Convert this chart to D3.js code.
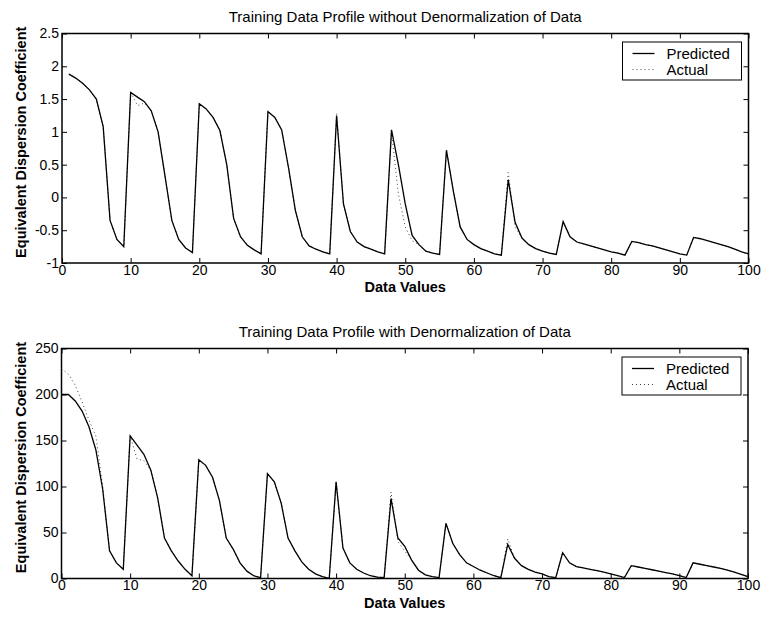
<!DOCTYPE html>
<html>
<head>
<meta charset="utf-8">
<script src="https://cdn.jsdelivr.net/npm/d3@7"></script>
<style>
body { margin: 0; background: #fff; }
svg text { font-family: "Liberation Sans", Arial, sans-serif; fill: #000; }
.axis text { font-size: 14px; }
.axis line { stroke: #000; stroke-width: 1; }
.axis path { display: none; }
.chart-title { font-size: 15px; }
.axis-label { font-size: 14.5px; font-weight: bold; }
.legend text { font-size: 15px; }
</style>
</head>
<body>
<div id="chart-area"></div>
<script>

// ---- data ----
var legendLabels = ["Predicted", "Actual"];
var xTicks = [0, 10, 20, 30, 40, 50, 60, 70, 80, 90, 100];
var yTicksTop = [-1, -0.5, 0, 0.5, 1, 1.5, 2, 2.5];
var yTicksBottom = [0, 50, 100, 150, 200, 250];

// top panel: x = 1..100
var topStart = 1;
var topPredicted = [
    1.88, 1.82, 1.74, 1.64, 1.50, 1.08, -0.35, -0.64, -0.75,
    1.60, 1.53, 1.46, 1.32, 1.00, 0.33, -0.35, -0.64, -0.77, -0.84,
    1.43, 1.35, 1.22, 1.02, 0.50, -0.32, -0.60, -0.73, -0.80, -0.86,
    1.31, 1.22, 1.03, 0.45, -0.20, -0.60, -0.74, -0.79, -0.83, -0.86,
    1.25, -0.10, -0.52, -0.68, -0.75, -0.79, -0.83, -0.86,
    1.03, 0.50, -0.10, -0.58, -0.72, -0.82, -0.85, -0.87,
    0.72, 0.10, -0.45, -0.64, -0.72, -0.78, -0.82, -0.86, -0.88,
    0.27, -0.38, -0.62, -0.72, -0.78, -0.82, -0.85, -0.87,
    -0.37, -0.60, -0.68, -0.71, -0.74, -0.77, -0.80, -0.83, -0.85, -0.88,
    -0.67, -0.69, -0.72, -0.74, -0.77, -0.80, -0.83, -0.86, -0.88,
    -0.61, -0.63, -0.66, -0.69, -0.72, -0.75, -0.79, -0.83, -0.86
];
var topActual = [
    1.88, 1.82, 1.74, 1.64, 1.50, 1.08, -0.35, -0.64, -0.75,
    1.60, 1.40, 1.44, 1.32, 1.00, 0.33, -0.35, -0.64, -0.77, -0.84,
    1.43, 1.35, 1.22, 1.02, 0.50, -0.32, -0.60, -0.73, -0.80, -0.86,
    1.31, 1.22, 1.03, 0.45, -0.20, -0.60, -0.74, -0.79, -0.83, -0.86,
    1.28, -0.10, -0.52, -0.68, -0.75, -0.79, -0.83, -0.86,
    1.00, 0.05, -0.45, -0.66, -0.72, -0.82, -0.85, -0.87,
    0.72, 0.10, -0.45, -0.64, -0.72, -0.78, -0.82, -0.86, -0.88,
    0.38, -0.45, -0.62, -0.72, -0.78, -0.82, -0.85, -0.87,
    -0.37, -0.60, -0.68, -0.71, -0.74, -0.77, -0.80, -0.83, -0.85, -0.88,
    -0.67, -0.69, -0.72, -0.74, -0.77, -0.80, -0.83, -0.86, -0.88,
    -0.61, -0.63, -0.66, -0.69, -0.72, -0.75, -0.79, -0.83, -0.86
];

// bottom panel: x = 0..100
var bottomStart = 0;
var bottomPredicted = [
    200, 200, 193, 182, 165, 140, 97, 30, 17, 10,
    155, 145, 135, 118, 88, 44, 30, 19, 10, 3,
    129, 123, 110, 85, 44, 32, 17, 8, 3, 1,
    114, 105, 82, 44, 30, 18, 10, 5, 2, 0,
    105, 33, 17, 10, 6, 3, 1.5, 1,
    87, 44, 35, 20, 9, 4, 2, 1,
    60, 38, 26, 17, 13, 9, 6, 3, 1,
    37, 22, 14, 10, 7, 5, 2, 1,
    28, 17, 13, 11.5, 10, 8.5, 7, 5, 3, 1,
    14, 12.5, 11, 9.5, 8, 6.5, 5, 3, 1,
    17, 15.5, 14, 12.5, 11, 9, 7, 4.5, 2
];
var bottomActual = [
    228, 222, 210, 192, 172, 155, 100, 30, 17, 10,
    155, 130, 128, 118, 88, 44, 30, 19, 10, 3,
    129, 123, 110, 85, 44, 32, 17, 8, 3, 1,
    114, 105, 82, 44, 30, 18, 10, 5, 2, 0,
    105, 33, 17, 10, 6, 3, 1.5, 1,
    94, 40, 30, 20, 9, 4, 2, 1,
    60, 38, 26, 17, 13, 9, 6, 3, 1,
    43, 22, 14, 10, 7, 5, 2, 1,
    28, 17, 13, 11.5, 10, 8.5, 7, 5, 3, 1,
    14, 12.5, 11, 9.5, 8, 6.5, 5, 3, 1,
    17, 15.5, 14, 12.5, 11, 9, 7, 4.5, 2
];


var svg = d3.select("#chart-area").append("svg")
    .attr("width", 762)
    .attr("height", 619);


/*
 * ProfileChart - one panel (axes box, two lines, legend)
 */
ProfileChart = function(_svg, _cfg){
    this.svg = _svg;
    this.cfg = _cfg;
    this.initVis();
}

ProfileChart.prototype.initVis = function(){
    var vis = this;
    var cfg = vis.cfg;

    vis.width = cfg.width;
    vis.height = cfg.height;

    vis.g = vis.svg.append("g")
        .attr("transform", "translate(" + cfg.left + "," + cfg.top + ")");

    // scales
    vis.x = d3.scaleLinear().domain([0, 100]).range([0, vis.width]);
    vis.y = d3.scaleLinear().domain(cfg.yDomain).range([vis.height, 0]);

    var fmt = function(d) { return String(d); };

    // MATLAB style: ticks point inward on all four sides
    vis.g.append("g")
        .attr("class", "axis")
        .attr("transform", "translate(0," + vis.height + ")")
        .call(d3.axisBottom(vis.x).tickValues(xTicks).tickFormat(fmt)
            .tickSizeInner(-5).tickSizeOuter(0).tickPadding(2));

    vis.g.append("g")
        .attr("class", "axis")
        .call(d3.axisTop(vis.x).tickValues(xTicks).tickFormat("")
            .tickSizeInner(-5).tickSizeOuter(0));

    vis.g.append("g")
        .attr("class", "axis")
        .call(d3.axisLeft(vis.y).tickValues(cfg.yTicks).tickFormat(fmt)
            .tickSizeInner(-5).tickSizeOuter(0).tickPadding(3));

    vis.g.append("g")
        .attr("class", "axis")
        .attr("transform", "translate(" + vis.width + ",0)")
        .call(d3.axisRight(vis.y).tickValues(cfg.yTicks).tickFormat("")
            .tickSizeInner(-5).tickSizeOuter(0));

    // box
    vis.g.append("rect")
        .attr("width", vis.width)
        .attr("height", vis.height)
        .attr("fill", "none")
        .attr("stroke", "#000")
        .attr("stroke-width", 1.5);

    // lines
    vis.line = d3.line()
        .x(function(d, i) { return vis.x(cfg.xStart + i); })
        .y(function(d) { return vis.y(d); });

    vis.g.append("path")
        .datum(cfg.actual)
        .attr("fill", "none")
        .attr("stroke", "#444")
        .attr("stroke-width", 1)
        .attr("stroke-dasharray", "1,3")
        .attr("d", vis.line);

    vis.g.append("path")
        .datum(cfg.predicted)
        .attr("fill", "none")
        .attr("stroke", "#000")
        .attr("stroke-width", 1.3)
        .attr("d", vis.line);

    // title + labels
    vis.g.append("text")
        .attr("class", "chart-title")
        .attr("x", vis.width / 2)
        .attr("y", -11.5)
        .attr("text-anchor", "middle")
        .text(cfg.title);

    vis.g.append("text")
        .attr("class", "axis-label")
        .attr("x", vis.width / 2)
        .attr("y", vis.height + 29)
        .attr("text-anchor", "middle")
        .text("Data Values");

    vis.g.append("text")
        .attr("class", "axis-label")
        .attr("transform", "translate(" + (26 - cfg.left) + "," + (vis.height / 2 - 6) + ") rotate(-90)")
        .attr("text-anchor", "middle")
        .text("Equivalent Dispersion Coefficient");

    // legend
    var leg = vis.g.append("g")
        .attr("class", "legend")
        .attr("transform", "translate(" + (vis.width - 126) + ",8.5)");

    leg.append("rect")
        .attr("width", 119)
        .attr("height", 38)
        .attr("fill", "#fff")
        .attr("stroke", "#000")
        .attr("stroke-width", 1);

    var rows = leg.selectAll(".leg-row")
        .data(legendLabels)
        .enter().append("g")
        .attr("class", "leg-row")
        .attr("transform", function(d, i) { return "translate(0," + (11.5 + i * 16) + ")"; });

    rows.append("line")
        .attr("x1", 10).attr("x2", 32)
        .attr("stroke", function(d, i) { return i === 0 ? "#000" : "#444"; })
        .attr("stroke-width", function(d, i) { return i === 0 ? 1.3 : 1; })
        .attr("stroke-dasharray", function(d, i) { return i === 0 ? null : "1,3"; });

    rows.append("text")
        .attr("x", 44)
        .attr("y", 5)
        .text(function(d) { return d; });
}


var topChart = new ProfileChart(svg, {
    left: 62, top: 33.5, width: 686.5, height: 229.5,
    title: "Training Data Profile without Denormalization of Data",
    yDomain: [-1, 2.5], yTicks: yTicksTop,
    xStart: topStart, predicted: topPredicted, actual: topActual
});

var bottomChart = new ProfileChart(svg, {
    left: 61.5, top: 348.5, width: 686.5, height: 230,
    title: "Training Data Profile with Denormalization of Data",
    yDomain: [0, 250], yTicks: yTicksBottom,
    xStart: bottomStart, predicted: bottomPredicted, actual: bottomActual
});

</script>
</body>
</html>
